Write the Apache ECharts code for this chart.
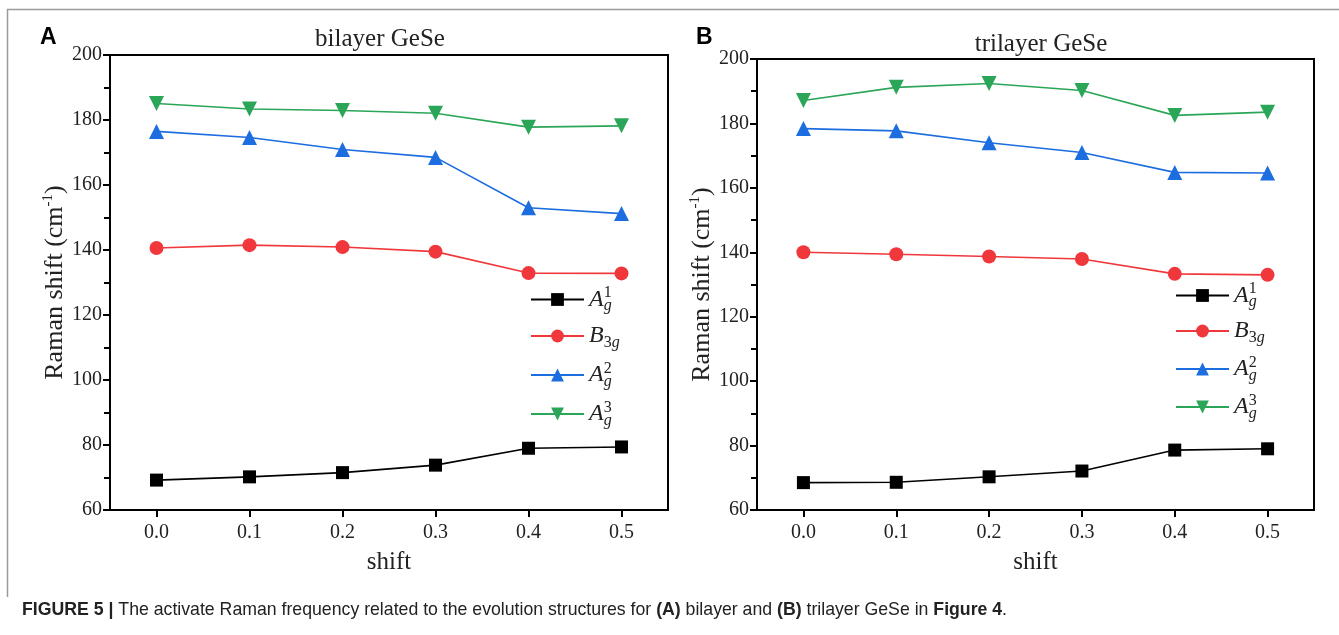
<!DOCTYPE html>
<html>
<head>
<meta charset="utf-8">
<script src="https://cdn.jsdelivr.net/npm/echarts@6/dist/echarts.min.js"></script>
<style>
  html, body { margin: 0; padding: 0; background: #fff; }
  #chart { width: 1339px; height: 635px; }
</style>
</head>
<body>
<div id="chart"></div>
<script>
// shift values (x axis categories)
var shifts = ['0.0', '0.1', '0.2', '0.3', '0.4', '0.5'];

// bilayer GeSe (panel A)
var biAg1 = [69.2, 70.2, 71.5, 73.8, 79.0, 79.4];
var biB3g = [140.6, 141.5, 140.9, 139.5, 132.9, 132.8];
var biAg2 = [176.5, 174.6, 170.9, 168.5, 153.0, 151.2];
var biAg3 = [185.1, 183.4, 182.9, 182.1, 177.8, 178.2];

// trilayer GeSe (panel B)
var triAg1 = [68.5, 68.6, 70.3, 72.1, 78.6, 79.0];
var triB3g = [140.0, 139.4, 138.7, 137.9, 133.3, 133.0];
var triAg2 = [178.4, 177.7, 174.0, 171.0, 164.8, 164.6];
var triAg3 = [187.1, 191.2, 192.4, 190.2, 182.5, 183.5];

var names = ['Ag1', 'B3g', 'Ag2', 'Ag3'];
var colors = ['#000000', '#f0383c', '#1c6de0', '#2ba658'];
var symbols = ['rect', 'circle', 'triangle', 'triangle'];
var symSizes = [13, 14, 15, 15];
var rotates = [0, 0, 0, 180];

var serif = '"Liberation Serif", "DejaVu Serif", serif';
var sans = '"Liberation Sans", Arial, sans-serif';

var chart = echarts.init(document.getElementById('chart'));

function yAxis(gi) {
    return {
        type: 'value', gridIndex: gi, min: 60, max: 200, interval: 20,
        name: '{t|Raman shift (cm}{s|-1}{t|)}',
        nameLocation: 'middle', nameGap: 40, nameRotate: 90,
        nameTextStyle: {
            rich: {
                t: { fontFamily: serif, fontSize: 26, color: '#222' },
                s: { fontFamily: serif, fontSize: 15, color: '#222', padding: [0, 0, 14, 0] }
            }
        },
        axisLine: { show: true, lineStyle: { color: '#000', width: 2 } },
        axisTick: { show: true, inside: false, length: 7, lineStyle: { color: '#000', width: 2 } },
        minorTick: { show: true, splitNumber: 2, length: 6, lineStyle: { color: '#000', width: 2 } },
        splitLine: { show: false },
        axisLabel: { margin: 8, fontFamily: serif, fontSize: 20, color: '#222' }
    };
}

function xAxis(gi) {
    return {
        type: 'category', gridIndex: gi, data: shifts, boundaryGap: true,
        name: 'shift', nameLocation: 'middle', nameGap: 40,
        nameTextStyle: { fontFamily: serif, fontSize: 25, color: '#222' },
        axisLine: { show: true, lineStyle: { color: '#000', width: 2 } },
        axisTick: { show: true, inside: false, alignWithLabel: true, length: 7, lineStyle: { color: '#000', width: 2 } },
        splitLine: { show: false },
        axisLabel: { margin: 13, fontFamily: serif, fontSize: 20, color: '#222' }
    };
}

function makeSeries(gi, arrs) {
    return arrs.map(function (d, i) {
        return {
            name: names[i], type: 'line', xAxisIndex: gi, yAxisIndex: gi,
            data: d, symbol: symbols[i], symbolSize: symSizes[i], symbolRotate: rotates[i],
            showAllSymbol: true,
            lineStyle: { color: colors[i], width: 1.6 },
            itemStyle: { color: colors[i], borderWidth: 0 },
            emphasis: { disabled: true },
            animation: false
        };
    });
}

var legendRich = {
    a: { fontFamily: serif, fontStyle: 'italic', fontSize: 24, color: '#222' },
    lo: { fontFamily: serif, fontStyle: 'italic', fontSize: 16, color: '#222', padding: [13, 0, 0, 0], width: 0.1 },
    lo2: { fontFamily: serif, fontSize: 16, color: '#222', padding: [13, 0, 0, 0] },
    log: { fontFamily: serif, fontStyle: 'italic', fontSize: 16, color: '#222', padding: [13, 0, 0, 0] },
    hi: { fontFamily: serif, fontSize: 16, color: '#222', padding: [0, 0, 13, 0] }
};

function legendFmt(n) {
    if (n === 'B3g') return '{a|B}{lo2|3}{log|g}';
    return '{a|A}{lo|g}{hi|' + n.charAt(2) + '}';
}

function makeLegend(left, top, gap) {
    return {
        data: names.map(function (n, i) {
            return { name: n, itemStyle: { color: colors[i] } };
        }),
        orient: 'vertical', left: left, top: top, padding: 0,
        itemWidth: 53, itemHeight: 16, itemGap: gap,
        selectedMode: false,
        formatter: legendFmt,
        textStyle: { rich: legendRich }
    };
}

var seriesA = makeSeries(0, [biAg1, biB3g, biAg2, biAg3]);
var seriesB = makeSeries(1, [triAg1, triB3g, triAg2, triAg3]);

chart.setOption({
    backgroundColor: '#fff',
    animation: false,
    title: [
        { text: 'bilayer GeSe', left: 375, top: 22, textAlign: 'center',
          textStyle: { fontFamily: serif, fontSize: 25, fontWeight: 'normal', color: '#222' } },
        { text: 'trilayer GeSe', left: 1036, top: 27, textAlign: 'center',
          textStyle: { fontFamily: serif, fontSize: 25, fontWeight: 'normal', color: '#222' } }
    ],
    grid: [
        { left: 110, top: 55, width: 558, height: 455, show: true, borderColor: '#000', borderWidth: 2 },
        { left: 757, top: 59, width: 557, height: 451, show: true, borderColor: '#000', borderWidth: 2 }
    ],
    legend: [makeLegend(530, 285, 10), makeLegend(1175, 281, 9)],
    xAxis: [xAxis(0), xAxis(1)],
    yAxis: [yAxis(0), yAxis(1)],
    series: seriesA.concat(seriesB),
    graphic: [
        { type: 'line', shape: { x1: 7, y1: 9.5, x2: 1339, y2: 9.5 }, style: { stroke: '#9a9a9a', lineWidth: 1.5 }, silent: true },
        { type: 'line', shape: { x1: 7.5, y1: 9, x2: 7.5, y2: 597 }, style: { stroke: '#9a9a9a', lineWidth: 1.5 }, silent: true },
        { type: 'text', left: 40, top: 26, style: { text: 'A', font: 'bold 23px ' + sans, fill: '#000' } },
        { type: 'text', left: 696, top: 26, style: { text: 'B', font: 'bold 23px ' + sans, fill: '#000' } },
        { type: 'text', left: 22, top: 601, style: {
            text: '{b|FIGURE 5 | }{n|The activate Raman frequency related to the evolution structures for }{b|(A)}{n| bilayer and }{b|(B)}{n| trilayer GeSe in }{b|Figure 4}{n|.}',
            rich: {
                b: { fontFamily: sans, fontWeight: 'bold', fontSize: 17.7, fill: '#222' },
                n: { fontFamily: sans, fontSize: 17.7, fill: '#222' }
            }
        } }
    ]
});
</script>
</body>
</html>
